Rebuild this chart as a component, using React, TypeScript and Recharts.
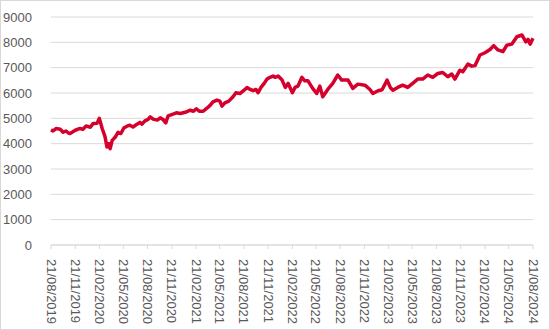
import { LineChart, Line, XAxis, YAxis, CartesianGrid } from 'recharts';

const dates = [
  '2019-08-21', '2019-08-29', '2019-09-09', '2019-09-25', '2019-10-06', '2019-10-17', '2019-10-25', '2019-11-01',
  '2019-11-21', '2019-12-09', '2019-12-20', '2020-01-01', '2020-01-17', '2020-01-28', '2020-02-12', '2020-02-20',
  '2020-03-02', '2020-03-13', '2020-03-20', '2020-03-28', '2020-04-01', '2020-04-09', '2020-04-20', '2020-05-01',
  '2020-05-12', '2020-05-23', '2020-06-04', '2020-06-15', '2020-06-27', '2020-07-12', '2020-07-23', '2020-07-31',
  '2020-08-11', '2020-08-23', '2020-08-31', '2020-09-11', '2020-09-27', '2020-10-08', '2020-10-19', '2020-10-29',
  '2020-11-07', '2020-11-23', '2020-12-08', '2020-12-23', '2021-01-11', '2021-01-30', '2021-02-11', '2021-02-22',
  '2021-03-05', '2021-03-20', '2021-04-04', '2021-04-15', '2021-04-26', '2021-05-11', '2021-05-22', '2021-05-30',
  '2021-06-10', '2021-06-25', '2021-07-11', '2021-07-22', '2021-08-06', '2021-08-22', '2021-09-02', '2021-09-14',
  '2021-09-25', '2021-10-06', '2021-10-14', '2021-10-25', '2021-11-06', '2021-11-17', '2021-11-28', '2021-12-10',
  '2021-12-17', '2021-12-29', '2022-01-13', '2022-01-25', '2022-02-05', '2022-02-21', '2022-03-03', '2022-03-14',
  '2022-03-29', '2022-04-09', '2022-04-21', '2022-05-09', '2022-05-24', '2022-06-05', '2022-06-16', '2022-07-05',
  '2022-07-24', '2022-08-12', '2022-08-27', '2022-09-20', '2022-10-08', '2022-10-27', '2022-11-23', '2022-12-12',
  '2022-12-23', '2023-01-12', '2023-01-27', '2023-02-15', '2023-02-27', '2023-03-09', '2023-03-27', '2023-04-15',
  '2023-05-04', '2023-05-23', '2023-06-11', '2023-06-30', '2023-07-19', '2023-08-07', '2023-08-26', '2023-09-14',
  '2023-10-03', '2023-10-18', '2023-10-30', '2023-11-18', '2023-11-29', '2023-12-18', '2024-01-02', '2024-01-14',
  '2024-02-02', '2024-02-21', '2024-03-11', '2024-03-25', '2024-04-10', '2024-04-29', '2024-05-14', '2024-06-02',
  '2024-06-21', '2024-07-10', '2024-07-25', '2024-08-02', '2024-08-10', '2024-08-21',
];

const values = [
  4550, 4500, 4600, 4570, 4450, 4500, 4430, 4400,
  4530, 4600, 4570, 4700, 4650, 4800, 4810, 5000,
  4600, 4270, 3870, 4000, 3800, 4130, 4250, 4450,
  4400, 4620, 4690, 4730, 4660, 4770, 4840, 4770,
  4900, 4960, 5060, 4970, 4930, 5020, 4950, 4820,
  5100, 5160, 5220, 5190, 5240, 5320, 5280, 5380,
  5280, 5280, 5410, 5510, 5650, 5720, 5680, 5480,
  5610, 5680, 5850, 6010, 5980, 6110, 6220, 6140,
  6090, 6140, 6010, 6220, 6380, 6550, 6620, 6670,
  6620, 6670, 6510, 6220, 6380, 6010, 6220, 6270,
  6620, 6480, 6480, 6180, 5980, 6270, 5850, 6140,
  6380, 6710, 6510, 6510, 6180, 6350, 6310, 6140,
  5980, 6090, 6130, 6510, 6220, 6110, 6220, 6310,
  6220, 6380, 6550, 6550, 6710, 6620, 6770, 6810,
  6640, 6750, 6550, 6900, 6840, 7140, 7060, 7080,
  7500, 7590, 7720, 7870, 7700, 7630, 7890, 7930,
  8220, 8290, 8020, 8120, 7930, 8160,
];

const tickLabels = [
  '21/08/2019', '21/11/2019', '21/02/2020', '21/05/2020', '21/08/2020', '21/11/2020', '21/02/2021',
  '21/05/2021', '21/08/2021', '21/11/2021', '21/02/2022', '21/05/2022', '21/08/2022', '21/11/2022',
  '21/02/2023', '21/05/2023', '21/08/2023', '21/11/2023', '21/02/2024', '21/05/2024', '21/08/2024',
];

const yTicks = [0, 1000, 2000, 3000, 4000, 5000, 6000, 7000, 8000, 9000];

const parseIso = (s: string) => {
  const [y, m, d] = s.split('-').map(Number);
  return Date.UTC(y, m - 1, d);
};
const parseLabel = (s: string) => {
  const [d, m, y] = s.split('/').map(Number);
  return Date.UTC(y, m - 1, d);
};

const data = dates.map((d, i) => ({ t: parseIso(d), v: values[i] }));
const xTicks = tickLabels.map(parseLabel);

const pad = (n: number) => String(n).padStart(2, '0');
const fmt = (t: number) => {
  const d = new Date(t);
  return `${pad(d.getUTCDate())}/${pad(d.getUTCMonth() + 1)}/${d.getUTCFullYear()}`;
};

const FONT = '"Liberation Sans", Arial, sans-serif';

function DateTick(props: any) {
  const { x, y, payload } = props;
  const ty = y + 8;
  return (
    <text
      x={x}
      y={ty}
      transform={`rotate(90, ${x}, ${ty})`}
      textAnchor="start"
      dominantBaseline="central"
      fill="#595959"
      fontSize={13}
      fontFamily={FONT}
    >
      {fmt(payload.value)}
    </text>
  );
}

export default function App() {
  return (
    <div style={{ position: 'absolute', left: 0, top: 0, width: 550, height: 330, background: '#fff' }}>
      <LineChart width={550} height={330} data={data} margin={{ top: 17, right: 17, bottom: 5, left: 0 }}>
        <CartesianGrid vertical={false} stroke="#d9d9d9" strokeWidth={1} />
        <XAxis
          dataKey="t"
          type="number"
          scale="linear"
          domain={[xTicks[0], xTicks[xTicks.length - 1]]}
          ticks={xTicks}
          interval={0}
          height={80}
          axisLine={{ stroke: '#d9d9d9' }}
          tickLine={{ stroke: '#d9d9d9' }}
          tickSize={4}
          tick={<DateTick />}
        />
        <YAxis
          domain={[0, 9000]}
          ticks={yTicks}
          interval={0}
          width={51}
          axisLine={false}
          tickLine={false}
          tickMargin={13}
          tick={{ fill: '#595959', fontSize: 13, fontFamily: FONT }}
        />
        <Line
          type="linear"
          dataKey="v"
          stroke="#d5002b"
          strokeWidth={3.5}
          strokeLinejoin="round"
          dot={false}
          isAnimationActive={false}
        />
      </LineChart>
      <div
        style={{
          position: 'absolute',
          left: 0,
          top: 0,
          width: 550,
          height: 330,
          boxSizing: 'border-box',
          border: '1px solid #d9d9d9',
          pointerEvents: 'none',
        }}
      />
    </div>
  );
}
